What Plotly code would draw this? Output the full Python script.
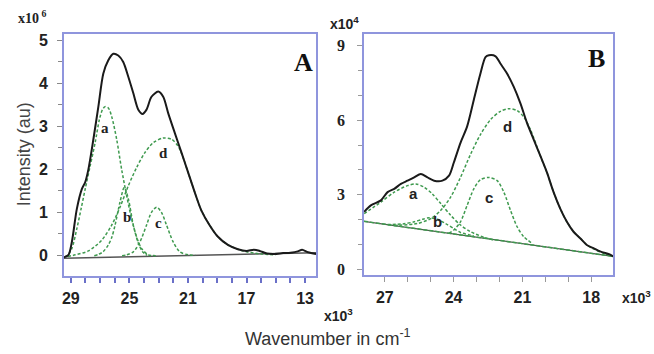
import plotly.graph_objects as go

# ---------------- Panel A (x in 10^3 cm-1, y in 10^6 au) ----------------
a_main_x = [29.48, 29.16, 28.93, 28.59, 28.25, 28.02, 27.80, 27.46, 27.12, 26.78, 26.44, 26.10,
            25.76, 25.42, 25.07, 24.73, 24.39, 24.10, 23.83, 23.49, 23.03, 22.69, 22.35, 21.90,
            21.44, 20.99, 20.54, 20.08, 19.52, 18.95, 18.27, 17.59, 17.0, 16.5, 16.1, 15.6, 15.1,
            14.5, 14.0, 13.5, 13.2, 12.8, 12.25]
a_main_y = [-0.05, 0.01, 0.31, 1.08, 1.54, 1.70, 2.0, 2.70, 3.46, 4.23, 4.54, 4.69,
            4.65, 4.50, 4.15, 3.77, 3.39, 3.29, 3.39, 3.69, 3.81, 3.69, 3.31, 2.85,
            2.39, 1.93, 1.47, 1.04, 0.70, 0.43, 0.24, 0.14, 0.10, 0.13, 0.10, 0.04, 0.03,
            0.05, 0.06, 0.09, 0.13, 0.07, 0.03]

a_comp_a_x = [29.4, 29.27, 28.93, 28.59, 28.30, 28.02, 27.68, 27.34, 27.05, 26.84, 26.66, 26.44,
              26.21, 25.87, 25.53, 25.19, 24.85, 24.51, 24.17, 23.71, 23.2]
a_comp_a_y = [-0.03, -0.02, 0.16, 0.62, 1.08, 1.54, 2.08, 2.62, 3.16, 3.39, 3.46, 3.43,
              3.23, 2.70, 2.00, 1.39, 0.85, 0.43, 0.16, 0.01, -0.01]

a_comp_b_x = [27.4, 27.12, 26.80, 26.44, 26.20, 25.98, 25.64, 25.35, 25.07, 24.73, 24.39, 24.10, 23.8]
a_comp_b_y = [-0.01, 0.02, 0.08, 0.24, 0.42, 0.70, 1.24, 1.58, 1.31, 0.70, 0.28, 0.08, 0.0]

a_comp_c_x = [25.5, 25.19, 24.73, 24.28, 23.83, 23.49, 23.14, 22.81, 22.46, 22.01, 21.56, 20.99, 20.5]
a_comp_c_y = [-0.01, 0.01, 0.08, 0.31, 0.70, 1.00, 1.12, 1.00, 0.70, 0.31, 0.08, 0.01, 0.0]

a_comp_d_x = [29.2, 28.7, 27.8, 26.89, 26.21, 25.64, 25.07, 24.51, 23.94, 23.37, 22.69, 22.12,
              21.67, 21.33, 20.99, 20.54, 20.08, 19.52, 18.95, 18.27, 17.59, 17.0, 16.0, 15.0]
a_comp_d_y = [-0.03, 0.01, 0.10, 0.35, 0.70, 1.12, 1.62, 2.04, 2.39, 2.62, 2.73, 2.70,
              2.54, 2.27, 1.93, 1.47, 1.04, 0.70, 0.43, 0.24, 0.14, 0.08, 0.03, 0.01]

a_base_x = [29.48, 12.25]
a_base_y = [-0.07, 0.06]

a_labels = ["a", "b", "c", "d"]
a_label_x = [26.69, 25.19, 23.03, 22.69]
a_label_y = [2.97, 0.90, 0.74, 2.39]

a_xticks = [29, 25, 21, 17, 13]
a_yticks = [0, 1, 2, 3, 4, 5]

# ---------------- Panel B (x in 10^3 cm-1, y in 10^4 au) ----------------
b_main_x = [27.90, 27.61, 27.17, 26.88, 26.59, 26.30, 26.01, 25.72, 25.43, 25.14, 24.85, 24.49,
            24.20, 23.99, 23.70, 23.41, 23.12, 22.83, 22.61, 22.46, 22.17, 21.96, 21.67, 21.38,
            21.09, 20.80, 20.51, 20.22, 19.93, 19.64, 19.35, 19.06, 18.77, 18.48, 18.19, 17.90,
            17.61, 17.17, 17.04]
b_main_y = [2.32, 2.58, 2.78, 3.11, 3.24, 3.44, 3.57, 3.70, 3.84, 3.70, 3.57, 3.57,
            3.77, 4.30, 5.09, 5.75, 6.81, 7.87, 8.53, 8.60, 8.56, 8.27, 7.87, 7.34,
            6.68, 5.89, 5.23, 4.57, 3.90, 3.11, 2.45, 1.92, 1.52, 1.26, 0.99, 0.86,
            0.73, 0.60, 0.53]

b_comp_a_x = [27.90, 27.17, 26.59, 26.01, 25.65, 25.29, 24.93, 24.56, 24.13, 23.70, 23.26, 22.68, 22.25]
b_comp_a_y = [2.25, 2.71, 3.11, 3.37, 3.44, 3.31, 3.04, 2.65, 2.18, 1.79, 1.52, 1.30, 1.19]

b_comp_b_x = [26.88, 26.16, 25.72, 25.36, 25.07, 24.71, 24.35, 23.99, 23.70, 23.26, 23.12]
b_comp_b_y = [1.81, 1.84, 1.92, 2.02, 2.08, 2.02, 1.85, 1.65, 1.49, 1.38, 1.35]

b_comp_c_x = [24.2, 23.99, 23.70, 23.41, 23.12, 22.83, 22.46, 22.10, 21.81, 21.52, 21.23, 20.94, 20.58]
b_comp_c_y = [1.46, 1.59, 1.92, 2.58, 3.24, 3.61, 3.70, 3.57, 3.11, 2.38, 1.72, 1.32, 1.06]

b_comp_d_x = [26.59, 25.58, 24.99, 24.56, 24.13, 23.70, 23.26, 22.83, 22.39, 21.96, 21.59, 21.23,
              20.94, 20.65, 20.22, 19.93, 19.64, 19.35, 19.06, 18.77, 18.48, 18.19, 17.90, 17.46, 17.04]
b_comp_d_y = [1.77, 1.85, 2.05, 2.38, 2.91, 3.70, 4.63, 5.42, 6.02, 6.35, 6.46, 6.38,
              6.13, 5.62, 4.57, 3.90, 3.11, 2.45, 1.92, 1.52, 1.26, 0.99, 0.83, 0.66, 0.53]

b_base_x = [27.91, 17.04]
b_base_y = [1.94, 0.53]

b_labels = ["a", "b", "c", "d"]
b_label_x = [25.73, 24.71, 22.46, 21.67]
b_label_y = [3.04, 1.95, 2.91, 5.75]

b_xticks = [27, 24, 21, 18]
b_yticks = [0, 3, 6, 9]

# ---------------- styling ----------------
BLACK = "#1a1a1a"
GREEN = "#3f9a4f"
FRAME = "#8f95dd"
SANS = "Liberation Sans, Arial, sans-serif"
SERIF = "Liberation Serif, Times New Roman, serif"

fig = go.Figure()

def add_line(x, y, xa, ya, color, width, dash="solid", shape="spline"):
    fig.add_trace(go.Scatter(x=x, y=y, xaxis=xa, yaxis=ya, mode="lines",
                             line=dict(color=color, width=width, dash=dash, shape=shape,
                                       smoothing=0.8),
                             hoverinfo="skip", showlegend=False))

# Panel A
add_line(a_base_x, a_base_y, "x", "y", "#555555", 1.5, shape="linear")
for cx, cy in [(a_comp_a_x, a_comp_a_y), (a_comp_b_x, a_comp_b_y),
               (a_comp_c_x, a_comp_c_y), (a_comp_d_x, a_comp_d_y)]:
    add_line(cx, cy, "x", "y", GREEN, 1.5, dash="3px,2px")
add_line(a_main_x, a_main_y, "x", "y", BLACK, 2)

# Panel B
add_line(b_base_x, b_base_y, "x2", "y2", "#4d5d4d", 1.2, shape="linear")
add_line(b_base_x, b_base_y, "x2", "y2", GREEN, 1.5, dash="4px,2px", shape="linear")
for cx, cy in [(b_comp_a_x, b_comp_a_y), (b_comp_b_x, b_comp_b_y),
               (b_comp_c_x, b_comp_c_y), (b_comp_d_x, b_comp_d_y)]:
    add_line(cx, cy, "x2", "y2", GREEN, 1.5, dash="3px,2px")
add_line(b_main_x, b_main_y, "x2", "y2", BLACK, 2)

W, H = 654, 354
def px(x):
    return x / W
def py(y):
    return 1 - y / H

def bold(vals):
    return ["<b>%s</b>" % v for v in vals]

common_axis = dict(showgrid=False, zeroline=False, showline=True, linecolor=FRAME,
                   linewidth=1.5, mirror=True, ticks="outside")

fig.update_layout(
    width=W, height=H, margin=dict(l=0, r=0, t=0, b=0),
    paper_bgcolor="white", plot_bgcolor="white",
    xaxis=dict(**common_axis, domain=[px(62), px(315)], range=[29.48, 12.25],
               tickvals=a_xticks, ticktext=bold(a_xticks),
               tickcolor="#6a70c8", ticklen=5, tickwidth=1.5,
               minor=dict(dtick=1, tick0=13, ticks="outside", ticklen=5,
                          tickcolor="#6a70c8", tickwidth=1.5),
               ticklabelstandoff=2,
               tickfont=dict(family=SANS, size=16, color="#222"),
               anchor="y"),
    yaxis=dict(**common_axis, domain=[py(278), py(33)], range=[-0.48, 5.16],
               tickvals=a_yticks, ticktext=bold(a_yticks),
               tickcolor="#888", ticklen=5, tickwidth=1,
               minor=dict(dtick=0.5, tick0=0, ticks="outside", ticklen=4,
                          tickcolor="#888", tickwidth=1),
               ticklabelstandoff=6,
               tickfont=dict(family=SANS, size=16, color="#222"),
               anchor="x"),
    xaxis2=dict(**common_axis, domain=[px(363), px(613)], range=[27.913, 17.043],
                tickvals=b_xticks, ticktext=bold(b_xticks),
                tickcolor="#999", ticklen=5, tickwidth=1,
                minor=dict(dtick=1, tick0=18, ticks="outside", ticklen=5,
                           tickcolor="#999", tickwidth=1),
                ticklabelstandoff=2,
                tickfont=dict(family=SANS, size=16, color="#222"),
                anchor="y2"),
    yaxis2=dict(**common_axis, domain=[py(277.5), py(33)], range=[-0.23, 9.47],
                tickvals=b_yticks, ticktext=bold(b_yticks),
                tickcolor="#999", ticklen=5, tickwidth=1,
                minor=dict(dtick=1, tick0=0, ticks="outside", ticklen=4,
                           tickcolor="#999", tickwidth=1),
                ticklabelstandoff=9,
                tickfont=dict(family=SERIF, size=16, color="#222"),
                anchor="x2"),
)

ann = []
for t, x, y in zip(a_labels, a_label_x, a_label_y):
    ann.append(dict(text="<b>%s</b>" % t, x=x, y=y, xref="x", yref="y", showarrow=False,
                    font=dict(family=SERIF, size=15, color="#222")))
for t, x, y in zip(b_labels, b_label_x, b_label_y):
    ann.append(dict(text="<b>%s</b>" % t, x=x, y=y, xref="x2", yref="y2", showarrow=False,
                    font=dict(family=SANS, size=15, color="#222")))

def pann(text, x, y, font, xanchor="center", yanchor="middle", angle=0):
    ann.append(dict(text=text, x=px(x), y=py(y), xref="paper", yref="paper",
                    showarrow=False, xanchor=xanchor, yanchor=yanchor,
                    textangle=angle, font=font))

pann("<b>A</b>", 302, 62, dict(family=SERIF, size=26, color="#111"))
pann("<b>B</b>", 596, 58, dict(family=SERIF, size=26, color="#111"))
pann("<b>x10<sup> 6</sup></b>", 14, 16, dict(family=SERIF, size=14, color="#222"),
     xanchor="left")
pann("<b>x10<sup>4</sup></b>", 327, 22, dict(family=SANS, size=14, color="#222"),
     xanchor="left")
pann("<b>x10<sup>3</sup></b>", 321, 318, dict(family=SANS, size=14, color="#222"),
     xanchor="left")
pann("<b>x10<sup>3</sup></b>", 653, 299, dict(family=SANS, size=14, color="#222"),
     xanchor="right")
pann("Intensity (au)", 22, 155, dict(family=SANS, size=18, color="#444"), angle=-90)
pann("Wavenumber in cm<sup>-1</sup>", 327, 340, dict(family=SANS, size=18, color="#333"))

fig.update_layout(annotations=ann)
fig.write_html("out.html", config={"displayModeBar": False},
               post_script="document.body.style.margin='0px';document.body.style.overflow='hidden';")
